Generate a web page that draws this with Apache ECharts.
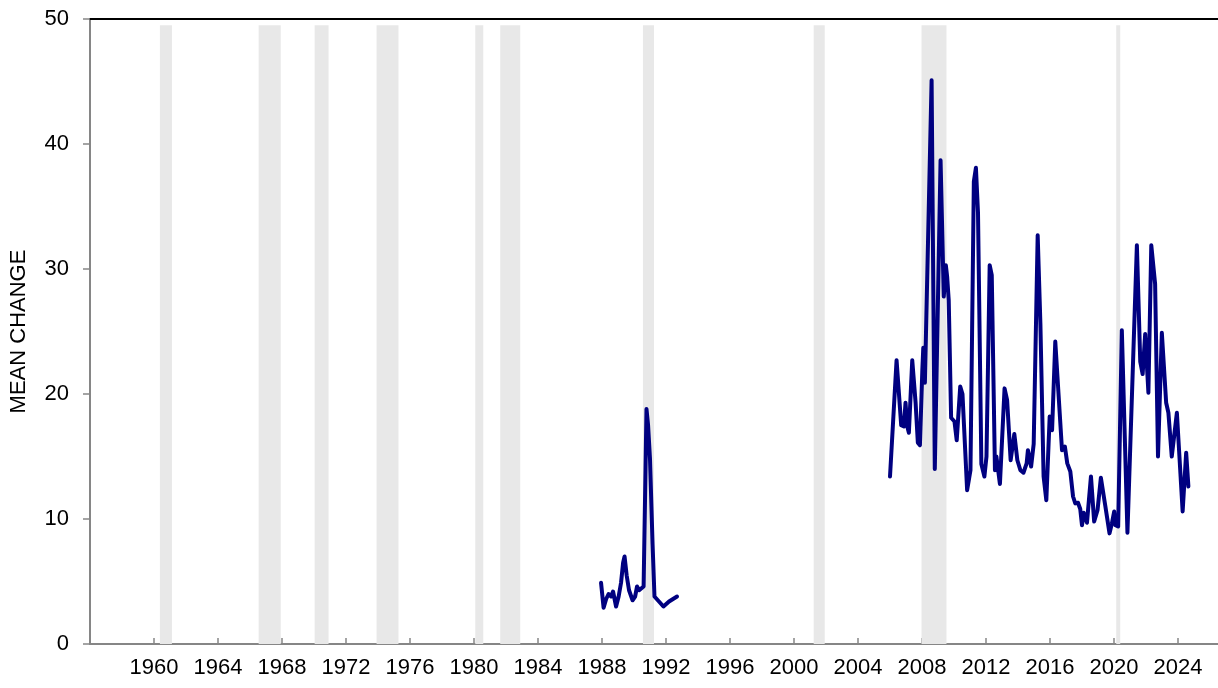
<!DOCTYPE html>
<html>
<head>
<meta charset="utf-8">
<title>Mean change</title>
<script src="https://cdn.jsdelivr.net/npm/echarts@6/dist/echarts.min.js"></script>
<style>
  html, body { margin: 0; padding: 0; background: #fff; }
  #chart { width: 1218px; height: 688px; }
</style>
</head>
<body>
<div id="chart"></div>
<script>
// recession periods (decimal years), shaded grey
const recessionStarts = [1960.37, 1966.54, 1970.04, 1973.91, 1980.08, 1981.64, 1990.56, 2001.23, 2007.97, 2020.14]
const recessionEnds   = [1961.12, 1967.92, 1970.91, 1975.28, 1980.58, 1982.89, 1991.25, 2001.92, 2009.53, 2020.39]

// first stretch of the series, 1988 - 1992
const years1 = [1987.94, 1988.10, 1988.26, 1988.41, 1988.57, 1988.69, 1988.88, 1989.04, 1989.19, 1989.32,
  1989.41, 1989.54, 1989.69, 1989.91, 1990.07, 1990.19, 1990.32, 1990.44, 1990.60, 1990.72,
  1990.78, 1990.88, 1991.00, 1991.16, 1991.28, 1991.56, 1991.84, 1992.19, 1992.69]
const values1 = [4.9, 2.9, 3.6, 4.0, 3.8, 4.2, 3.0, 3.8, 4.9, 6.5,
  7.0, 5.5, 4.3, 3.5, 3.8, 4.6, 4.3, 4.2, 4.6, 14.0,
  18.8, 17.5, 14.8, 8.0, 3.8, 3.4, 3.0, 3.4, 3.8]

// second stretch, 2006 - 2024
const years2 = [2006.00, 2006.41, 2006.49, 2006.70, 2006.87, 2006.97, 2007.08, 2007.18, 2007.39, 2007.60,
  2007.74, 2007.87, 2008.02, 2008.08, 2008.18, 2008.60, 2008.80, 2009.16, 2009.36, 2009.49,
  2009.57, 2009.67, 2009.82, 2010.03, 2010.17, 2010.39, 2010.53, 2010.82, 2011.03, 2011.24,
  2011.37, 2011.50, 2011.71, 2011.90, 2012.03, 2012.23, 2012.36, 2012.56, 2012.65, 2012.87,
  2013.16, 2013.32, 2013.54, 2013.77, 2013.96, 2014.15, 2014.34, 2014.54, 2014.62, 2014.82,
  2014.98, 2015.23, 2015.40, 2015.60, 2015.77, 2015.98, 2016.13, 2016.33, 2016.43, 2016.75,
  2016.93, 2017.08, 2017.27, 2017.44, 2017.58, 2017.75, 2017.89, 2018.00, 2018.11, 2018.31,
  2018.56, 2018.76, 2018.97, 2019.18, 2019.45, 2019.72, 2019.87, 2020.01, 2020.09, 2020.26,
  2020.49, 2020.84, 2021.43, 2021.64, 2021.79, 2021.95, 2022.15, 2022.33, 2022.43, 2022.57,
  2022.75, 2022.99, 2023.26, 2023.40, 2023.61, 2023.71, 2023.93, 2024.29, 2024.51, 2024.65]
const values2 = [13.4, 22.7, 22.7, 17.5, 17.4, 19.3, 17.4, 16.9, 22.7, 19.3,
  16.1, 15.9, 21.9, 23.7, 20.9, 45.1, 14.0, 38.7, 27.8, 30.3,
  29.4, 27.5, 18.1, 17.8, 16.3, 20.6, 20.0, 12.3, 13.9, 37.0,
  38.1, 34.5, 14.4, 13.4, 15.0, 30.3, 29.5, 13.9, 15.0, 12.8,
  20.45, 19.5, 14.7, 16.8, 14.7, 13.9, 13.7, 14.45, 15.5, 14.2,
  16.0, 32.7, 25.6, 13.4, 11.5, 18.2, 17.1, 24.2, 24.3, 15.5,
  15.8, 14.45, 13.8, 11.8, 11.25, 11.3, 10.8, 9.5, 10.5, 9.7,
  13.4, 9.8, 10.7, 13.3, 11.1, 8.85, 9.65, 10.6, 9.5, 9.4,
  25.1, 8.9, 31.9, 22.6, 21.6, 24.8, 20.1, 31.9, 31.9, 28.8,
  15.0, 24.9, 19.3, 18.5, 15.0, 15.0, 18.5, 10.6, 15.3, 12.6]

const font = 'Liberation Sans, Arial, sans-serif'

const chart = echarts.init(document.getElementById('chart'))

const bands = recessionStarts.map((s, i) => [
  { coord: [s, 0] },
  { coord: [recessionEnds[i], 49.5] }
])

chart.setOption({
  animation: false,
  grid: {
    left: 87,
    right: 0,
    top: 19,
    bottom: 44
  },
  xAxis: [{
    type: 'value',
    min: 1956,
    max: 2026.5,
    interval: 4,
    axisLine: { lineStyle: { color: '#868686', width: 2 } },
    axisTick: { inside: true, length: 6, lineStyle: { color: '#868686', width: 1.5 } },
    axisLabel: {
      showMinLabel: false,
      showMaxLabel: false,
      margin: 13,
      color: '#000',
      fontFamily: font,
      fontSize: 22,
      formatter: v => String(v)
    },
    splitLine: { show: false }
  }, {
    // black line along the top of the plot
    type: 'value',
    position: 'top',
    min: 1956,
    max: 2026.5,
    axisLine: { show: true, lineStyle: { color: '#000', width: 2 } },
    axisTick: { show: false },
    axisLabel: { show: false },
    splitLine: { show: false }
  }],
  yAxis: {
    type: 'value',
    min: 0,
    max: 50,
    interval: 10,
    name: 'MEAN CHANGE',
    nameLocation: 'middle',
    nameGap: 60,
    nameTextStyle: { color: '#000', fontFamily: font, fontSize: 22 },
    axisLine: { show: true, lineStyle: { color: '#868686', width: 2 } },
    axisTick: { show: true, length: 7, lineStyle: { color: '#868686', width: 1.5 } },
    axisLabel: { margin: 21, color: '#000', fontFamily: font, fontSize: 22 },
    splitLine: { show: false }
  },
  series: [{
    name: 'recessions',
    type: 'line',
    data: [],
    markArea: {
      silent: true,
      itemStyle: { color: '#e8e8e8' },
      data: bands
    }
  }, {
    name: 'mean change 1',
    type: 'line',
    data: years1.map((y, i) => [y, values1[i]]),
    showSymbol: false,
    lineStyle: { color: '#000080', width: 4, join: 'round', cap: 'round' },
    z: 3
  }, {
    name: 'mean change 2',
    type: 'line',
    data: years2.map((y, i) => [y, values2[i]]),
    showSymbol: false,
    lineStyle: { color: '#000080', width: 4, join: 'round', cap: 'round' },
    z: 3
  }]
})
</script>
</body>
</html>
